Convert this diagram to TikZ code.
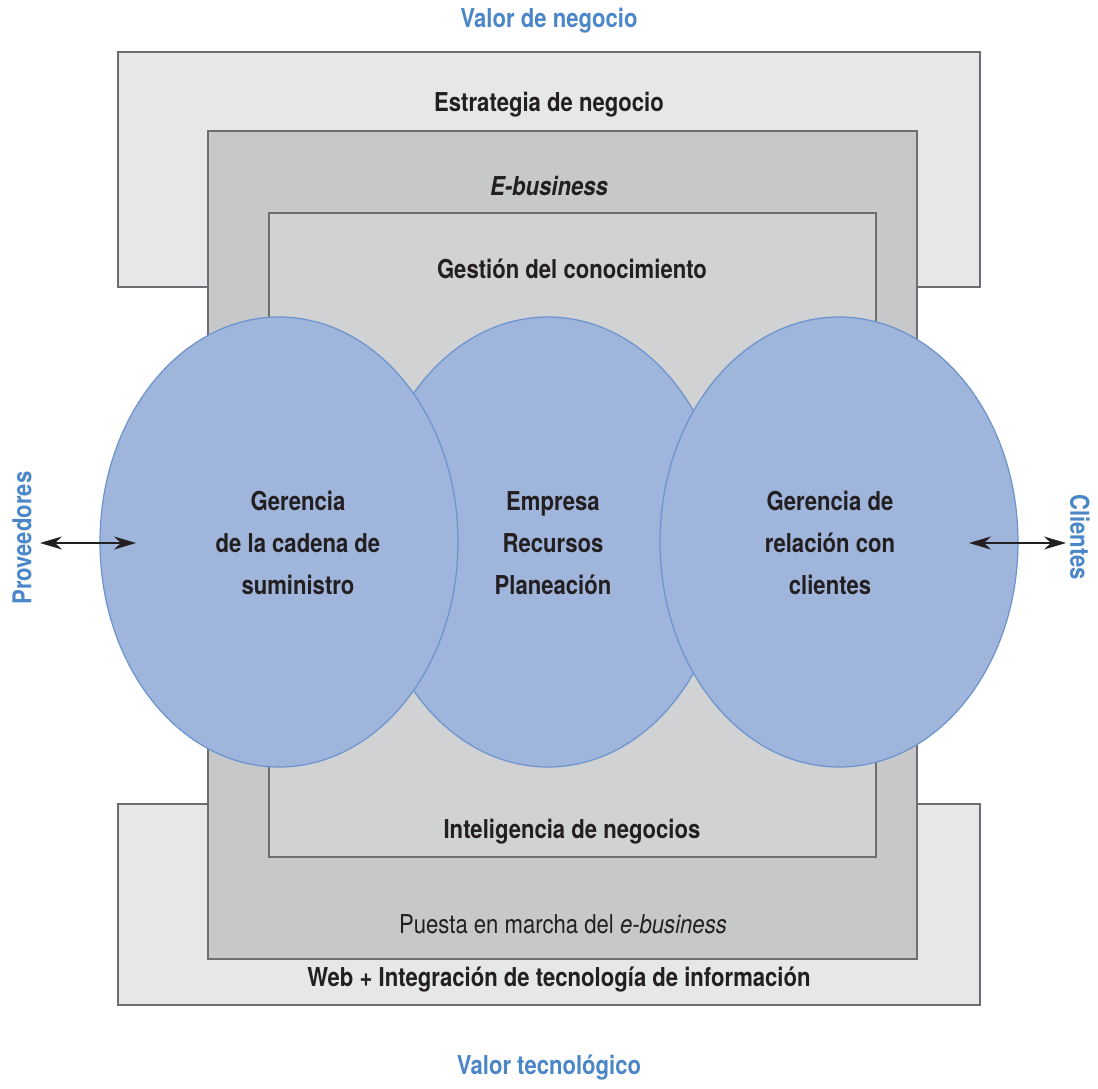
\documentclass[tikz,border=0pt]{standalone}
\usepackage{fontspec}
\setmainfont{TeX Gyre Heros}[FakeStretch=0.85]
\usetikzlibrary{arrows.meta,shapes.geometric}
\definecolor{outerg}{HTML}{E6E7E8}
\definecolor{midg}{HTML}{C7C8CA}
\definecolor{innerg}{HTML}{D1D2D4}
\definecolor{edgeg}{HTML}{6D6E71}
\definecolor{ellfill}{HTML}{A0B5DC}
\definecolor{elledge}{HTML}{6A93CE}
\definecolor{bluetxt}{HTML}{4A86C8}
\definecolor{txt}{HTML}{231F20}
\tikzset{
  box/.style={draw=edgeg, line width=1.5pt},
  ell/.style={draw=elledge, line width=1.2pt, fill=ellfill},
  lbl/.style={font=\bfseries\fontsize{26}{42}\selectfont, text=txt, align=center, inner sep=0pt},
  reg/.style={font=\fontsize{26}{42}\selectfont, text=txt, align=center, inner sep=0pt},
  bl/.style={font=\bfseries\fontsize{26}{32}\selectfont, text=bluetxt, inner sep=0pt},
  dbl/.style={{Stealth[length=22pt,width=13pt,inset=7pt]}-{Stealth[length=22pt,width=13pt,inset=7pt]}, line width=1.3pt, txt}
}
\begin{document}
\begin{tikzpicture}[x=1pt,y=-1pt]
\useasboundingbox (0,0) rectangle (1098,1089);
% outer rectangles
\draw[box, fill=outerg] (118,52) rectangle (980,287);
\draw[box, fill=outerg] (118,804) rectangle (980,1005);
% middle
\draw[box, fill=midg] (208,131) rectangle (917,959);
% inner
\draw[box, fill=innerg] (269,213) rectangle (876,857);
% ellipses
\node[ell, ellipse, minimum width=358pt, minimum height=450pt, inner sep=0pt] (erp) at (548,542) {};
\node[ell, ellipse, minimum width=358pt, minimum height=450pt, inner sep=0pt] (scm) at (279,542) {};
\node[ell, ellipse, minimum width=358pt, minimum height=450pt, inner sep=0pt] (crm) at (839,542) {};
% texts
\node[bl] (vn) at (549,21) {Valor de negocio};
\node[bl] (vt) at (549,1068) {Valor tecnológico};
\node[lbl] (est) at (549,105) {Estrategia de negocio};
\node[lbl] (eb) at (549,186) {\itshape E-business};
\node[lbl] (gc) at (572,269) {Gestión del conocimiento};
\node[lbl] (ib) at (572,832) {Inteligencia de negocios};
\node[reg] (pm) at (563,924) {Puesta en marcha del \textit{e-business}};
\node[lbl] (web) at (559,980) {Web + Integración de tecnología de información};
\node[lbl] (t1) at (298,543) {Gerencia\\de la cadena de\\suministro};
\node[lbl] (t2) at (553,543) {Empresa\\Recursos\\Planeación};
\node[lbl] (t3) at (830,543) {Gerencia de\\relación con\\clientes};
\node[bl, rotate=90] (prov) at (22,538) {Proveedores};
\node[bl, rotate=-90] (cli) at (1080,537) {Clientes};
% arrows
\coordinate (a1) at (40,543);
\coordinate (a2) at (136,543);
\coordinate (b1) at (969,543);
\coordinate (b2) at (1066,543);
\draw[dbl] (a1) -- (a2);
\draw[dbl] (b1) -- (b2);
\end{tikzpicture}
\end{document}
